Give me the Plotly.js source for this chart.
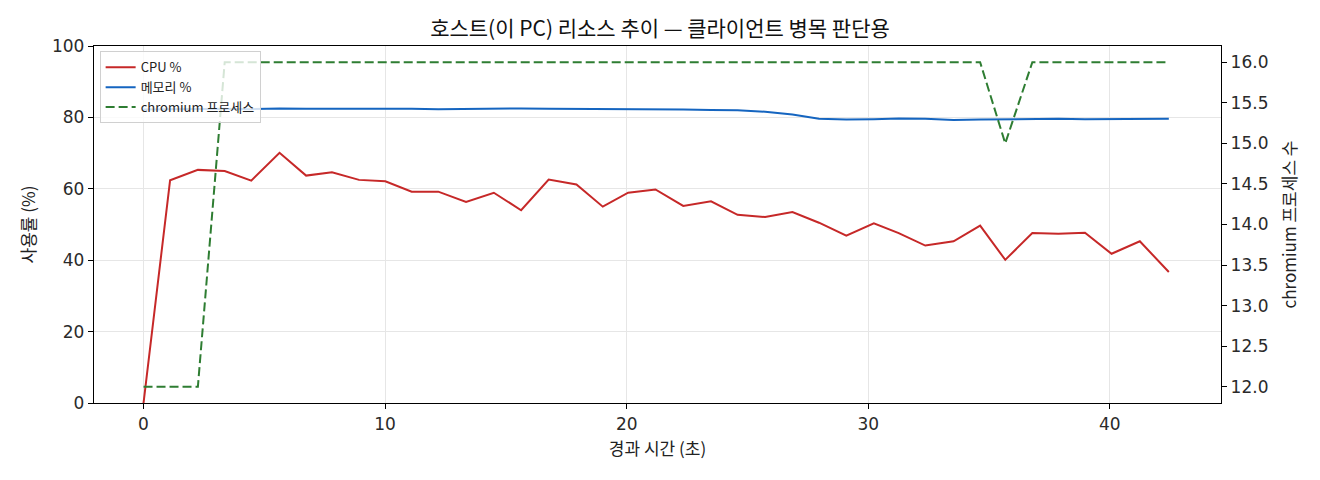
<!DOCTYPE html>
<html>
<head>
<meta charset="utf-8">
<script src="https://cdn.plot.ly/plotly-3.0.1.min.js"></script>
<style>
  html, body { margin: 0; padding: 0; background: #fff; }
  #chart_container { width: 1320px; height: 480px; }
</style>
</head>
<body>
<div id="chart_container"></div>
<script>
// elapsed time (s)
var elapsedSec = [0, 1.10, 2.25, 3.36, 4.46, 5.63, 6.73, 7.80, 8.92, 10.01,
	11.10, 12.20, 13.35, 14.50, 15.63, 16.77, 17.92, 19.01, 20.06, 21.19,
	22.34, 23.49, 24.59, 25.73, 26.86, 27.96, 29.09, 30.23, 31.26, 32.36,
	33.53, 34.63, 35.67, 36.79, 37.87, 38.97, 40.07, 41.24, 42.44];

var cpuPct = [0, 62.4, 65.3, 65.0, 62.3, 70.1, 63.7, 64.6, 62.5, 62.1,
	59.2, 59.2, 56.3, 58.9, 54.0, 62.6, 61.2, 55.0, 58.9, 59.8,
	55.2, 56.5, 52.7, 52.1, 53.5, 50.5, 46.9, 50.3, 47.6, 44.1,
	45.3, 49.7, 40.1, 47.6, 47.4, 47.7, 41.8, 45.3, 36.7];

var memPct = [82.2, 82.3, 82.3, 82.4, 82.3, 82.5, 82.4, 82.4, 82.4, 82.6,
	82.4, 82.3, 82.4, 82.4, 82.5, 82.4, 82.4, 82.3, 82.4, 82.2,
	82.2, 82.1, 82.0, 81.6, 80.8, 79.6, 79.4, 79.5, 79.7, 79.6,
	79.3, 79.4, 79.5, 79.6, 79.6, 79.5, 79.5, 79.6, 79.6];

var chromiumProcs = [12, 12, 12, 16, 16, 16, 16, 16, 16, 16,
	16, 16, 16, 16, 16, 16, 16, 16, 16, 16,
	16, 16, 16, 16, 16, 16, 16, 16, 16, 16,
	16, 16, 15, 16, 16, 16, 16, 16, 16];

var FONT = '"Noto Sans CJK KR", "Noto Sans", sans-serif';
var TICKFONT = { family: '"DejaVu Sans", "Noto Sans CJK KR", sans-serif', size: 17, color: '#2a2a2a' };

var cpu = {
	x: elapsedSec, y: cpuPct, name: 'CPU %', mode: 'lines',
	line: { color: '#c62828', width: 2 }, yaxis: 'y'
};
var mem = {
	x: elapsedSec, y: memPct, name: '메모리 %', mode: 'lines',
	line: { color: '#1565c0', width: 2 }, yaxis: 'y'
};
var chromium = {
	x: elapsedSec, y: chromiumProcs, name: 'chromium 프로세스', mode: 'lines',
	line: { color: '#2e7d32', width: 2, dash: '9px,4px' }, yaxis: 'y2'
};

var layout = {
	width: 1320, height: 480,
	margin: { l: 94, r: 99, t: 46, b: 77 },
	paper_bgcolor: '#fff', plot_bgcolor: '#fff',
	font: { family: FONT, size: 15, color: '#222' },
	title: {
		text: '호스트(이 PC) 리소스 추이 — 클라이언트 병목 판단용',
		font: { family: FONT, size: 21, color: '#111' },
		x: 0.5, xanchor: 'center', y: 0.94, yanchor: 'middle'
	},
	showlegend: true,
	legend: {
		x: 0.005, y: 0.985, xanchor: 'left', yanchor: 'top',
		bgcolor: 'rgba(255,255,255,0.8)', bordercolor: '#d0d0d0', borderwidth: 1,
		font: { family: FONT, size: 13, color: '#222' },
		tracegroupgap: 2
	},
	xaxis: {
		range: [-2.05, 44.6], dtick: 10, tick0: 0,
		showgrid: true, gridcolor: '#e6e6e6', gridwidth: 1,
		zeroline: false, showline: true, linecolor: '#000', linewidth: 1.2, mirror: true,
		ticks: 'outside', ticklen: 5, tickcolor: '#000', tickfont: TICKFONT,
		title: { text: '경과 시간 (초)', font: { family: FONT, size: 17 }, standoff: 10 }
	},
	yaxis: {
		range: [0, 100], dtick: 20, tick0: 0,
		showgrid: true, gridcolor: '#e6e6e6', gridwidth: 1,
		zeroline: false, showline: true, linecolor: '#000', linewidth: 1.2,
		ticks: 'outside', ticklen: 5, tickcolor: '#000', tickfont: TICKFONT,
		title: { text: '사용률 (%)', font: { family: FONT, size: 17 }, standoff: 12 }
	},
	yaxis2: {
		overlaying: 'y', side: 'right',
		range: [11.8, 16.2], dtick: 0.5, tick0: 12, tickformat: '.1f',
		showgrid: false, zeroline: false, showline: true, linecolor: '#000', linewidth: 1.2,
		ticks: 'outside', ticklen: 5, tickcolor: '#000', tickfont: TICKFONT,
		title: { text: 'chromium 프로세스 수', font: { family: FONT, size: 17 }, standoff: 16 }
	}
};

Plotly.newPlot('chart_container', [cpu, mem, chromium], layout, { displayModeBar: false, staticPlot: true });
</script>
</body>
</html>
